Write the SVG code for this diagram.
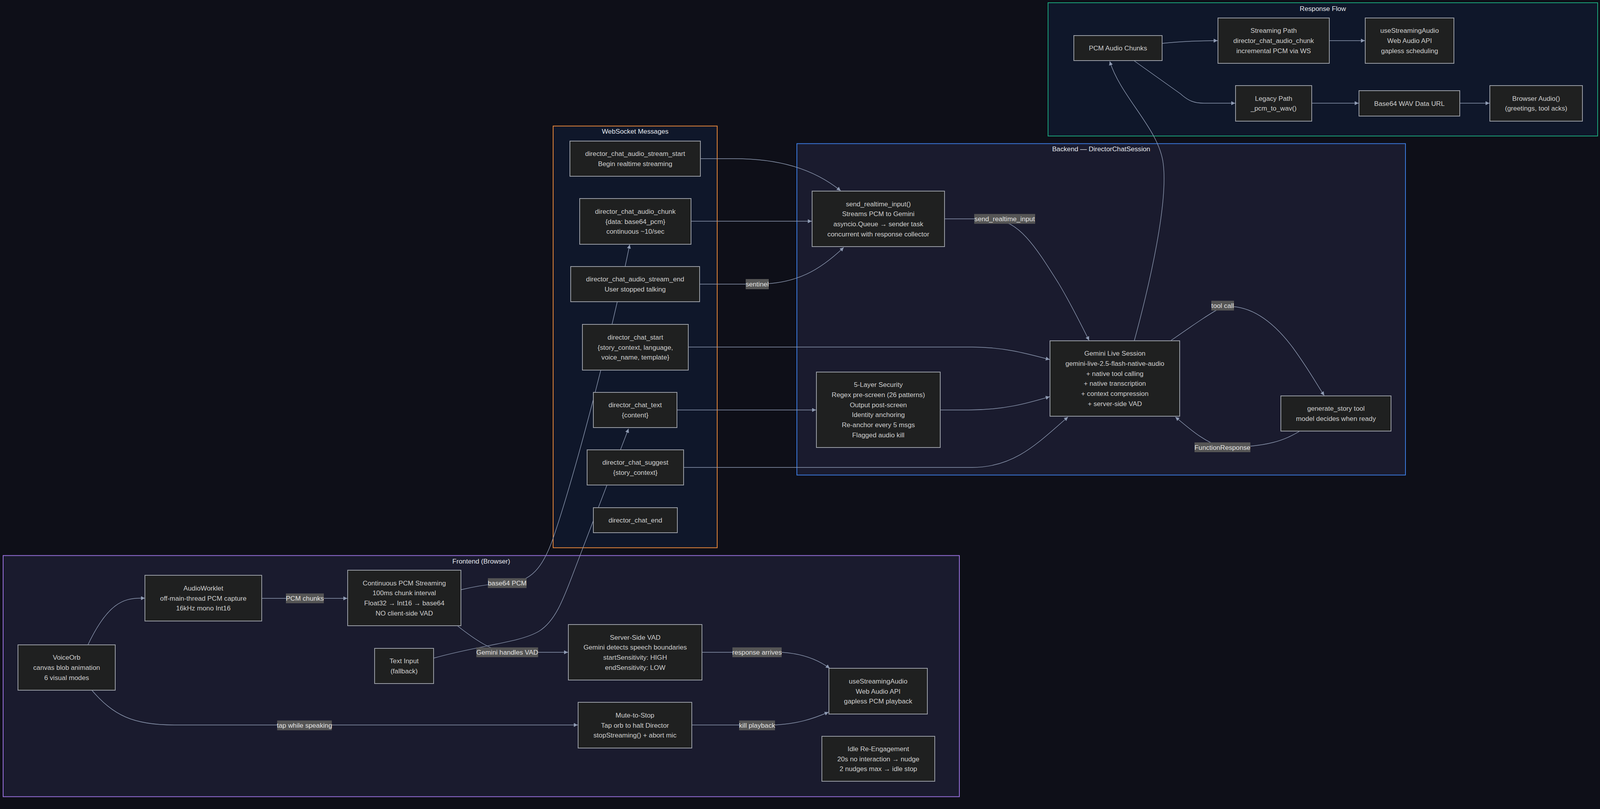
<svg xmlns="http://www.w3.org/2000/svg" width="4704" height="2070" viewBox="0 0 4704 2070">
<defs>
<marker id="arr" markerUnits="userSpaceOnUse" markerWidth="11" markerHeight="11" refX="10" refY="5" orient="auto">
<path d="M0,0 L10,5 L0,10 z" fill="#8f9bb3"/>
</marker>
<style>
.bg{fill:#0e0f18}
.cl{stroke-width:2}
.node rect{fill:#1f2020;stroke:#9a9ea6;stroke-width:2}
.node text{font-family:"Liberation Sans",Arial,Helvetica,sans-serif;font-size:17.2px;fill:#cfcfcf;text-anchor:middle;dominant-baseline:central}
.ttl{font-family:"Liberation Sans",Arial,Helvetica,sans-serif;font-size:17.2px;fill:#e6e9ee;text-anchor:middle;dominant-baseline:central}
.edges path{fill:none;stroke:#8f9bb3;stroke-width:1.4;marker-end:url(#arr)}
.lbl rect{fill:#555555}
.lbl text{font-family:"Liberation Sans",Arial,Helvetica,sans-serif;font-size:17.2px;fill:#e2e2e2;text-anchor:middle;dominant-baseline:central}
</style>
</defs>
<rect class="bg" x="0" y="0" width="4704" height="2070"/>

<g id="clusters">
<g id="cluster-response">
<rect class="cl" x="2683" y="7" width="1407" height="341" fill="#0f172a" stroke="#1aa37a"/>
<text class="ttl" x="3386.5" y="21.5">Response Flow</text>
</g>
<g id="cluster-websocket">
<rect class="cl" x="1416" y="322.5" width="420" height="1079" fill="#0f172a" stroke="#e8873a"/>
<text class="ttl" x="1626" y="336">WebSocket Messages</text>
</g>
<g id="cluster-backend">
<rect class="cl" x="2040" y="367.5" width="1558" height="848" fill="#1a1b2e" stroke="#3b7be0"/>
<text class="ttl" x="2819" y="381">Backend — DirectorChatSession</text>
</g>
<g id="cluster-frontend">
<rect class="cl" x="8" y="1421.5" width="2448" height="617" fill="#1a1b2e" stroke="#9a72e0"/>
<text class="ttl" x="1232" y="1435.5">Frontend (Browser)</text>
</g>
</g>

<g class="edges" id="connectors">
<path d="M225,1650 C275,1545 315,1530.5 360,1530.5 L371,1530.5"/>
<path d="M670,1531 L889,1531"/>
<path d="M1180,1509 C1230,1497 1270,1493 1298,1492 C1360,1490 1390,1450 1415,1380 C1470,1220 1560,880 1612,626"/>
<path d="M1172,1602 C1220,1640 1260,1665 1298,1669 L1454,1669"/>
<path d="M1110,1684 C1230,1650 1330,1645 1380,1615 C1420,1590 1440,1540 1470,1460 C1520,1330 1570,1200 1609,1097"/>
<path d="M1793,406 L1880,406 C1990,406 2080,430 2152,488"/>
<path d="M1769,566 L2078,566"/>
<path d="M1791,727 L1938,727 C2040,727 2100,690 2160,633"/>
<path d="M2418,560 L2540,560 C2610,565 2650,630 2710,725 C2740,775 2765,825 2788,871"/>
<path d="M1762,888 L2489,888 C2570,888 2630,905 2687,920"/>
<path d="M1733,1049 L2089,1049"/>
<path d="M2407,1049 L2480,1049 C2570,1049 2630,1032 2687,1015"/>
<path d="M1750,1196 L2489,1196 C2600,1196 2660,1130 2734,1067"/>
<path d="M2998,871 C3060,828 3100,800 3130,785 C3190,778 3250,810 3310,890 C3350,945 3372,985 3390,1012"/>
<path d="M3326,1104 C3290,1125 3250,1144 3130,1145 C3080,1130 3040,1092 3009,1067"/>
<path d="M2904,871 C2945,720 2990,520 2978,420 C2968,330 2870,250 2841,157"/>
<path d="M2975,111 C3022,106 3062,104 3117,104"/>
<path d="M3403,104 L3494,104"/>
<path d="M2904,156 L3022,240 C3042,258 3057,264 3082,264 L3162,264"/>
<path d="M3358,264 L3478,264"/>
<path d="M3737,264 L3813,264"/>
<path d="M235,1766 C290,1830 340,1855 446,1855 L1479,1855"/>
<path d="M1797,1669 L2001,1669 C2050,1672 2090,1685 2124,1710"/>
<path d="M1771,1855 L1984,1855 C2040,1852 2080,1840 2121,1822"/>
</g>

<g id="edge-labels">
<g class="lbl"><rect x="732" y="1518.5" width="97" height="25"/><text x="780.5" y="1531">PCM chunks</text></g>
<g class="lbl"><rect x="709.5" y="1843.5" width="140" height="25"/><text x="779.5" y="1856">tap while speaking</text></g>
<g class="lbl"><rect x="1249" y="1479.5" width="99" height="25"/><text x="1298.5" y="1492">base64 PCM</text></g>
<g class="lbl"><rect x="1219.5" y="1656.5" width="158" height="25"/><text x="1298.5" y="1669">Gemini handles VAD</text></g>
<g class="lbl"><rect x="1875" y="1656.5" width="126" height="25"/><text x="1938" y="1669">response arrives</text></g>
<g class="lbl"><rect x="1892" y="1843.5" width="92" height="25"/><text x="1938" y="1856">kill playback</text></g>
<g class="lbl"><rect x="1909" y="714" width="59" height="26"/><text x="1938.5" y="727">sentinel</text></g>
<g class="lbl"><rect x="2494" y="547.5" width="156" height="25"/><text x="2572" y="560">send_realtime_input</text></g>
<g class="lbl"><rect x="3101" y="769.5" width="58" height="25"/><text x="3130" y="782">tool call</text></g>
<g class="lbl"><rect x="3058" y="1132" width="143" height="25"/><text x="3129.5" y="1144.5">FunctionResponse</text></g>
</g>

<g id="n-pcm-chunks" class="node"><rect x="2749" y="91" width="226" height="64"/><text x="2862" y="123">PCM Audio Chunks</text></g>
<g id="n-streaming-path" class="node"><rect x="3118" y="46" width="285" height="116"/>
<text x="3260.5" y="78.3">Streaming Path</text><text x="3260.5" y="104">director_chat_audio_chunk</text><text x="3260.5" y="129.7">incremental PCM via WS</text></g>
<g id="n-usestreaming-resp" class="node"><rect x="3495" y="46" width="227" height="116"/>
<text x="3608.5" y="78.3">useStreamingAudio</text><text x="3608.5" y="104">Web Audio API</text><text x="3608.5" y="129.7">gapless scheduling</text></g>
<g id="n-legacy" class="node"><rect x="3163" y="219" width="195" height="91"/>
<text x="3260.5" y="251.6">Legacy Path</text><text x="3260.5" y="277.4">_pcm_to_wav()</text></g>
<g id="n-base64wav" class="node"><rect x="3479" y="232" width="258" height="65"/><text x="3608" y="264.5">Base64 WAV Data URL</text></g>
<g id="n-browser-audio" class="node"><rect x="3814" y="219" width="237" height="91"/>
<text x="3932.5" y="251.6">Browser Audio()</text><text x="3932.5" y="277.4">(greetings, tool acks)</text></g>

<g id="n-stream-start" class="node"><rect x="1459" y="361" width="334" height="90"/>
<text x="1626" y="393.1">director_chat_audio_stream_start</text><text x="1626" y="418.9">Begin realtime streaming</text></g>
<g id="n-audio-chunk" class="node"><rect x="1484" y="508" width="285" height="117"/>
<text x="1626.5" y="540.8">director_chat_audio_chunk</text><text x="1626.5" y="566.5">{data: base64_pcm}</text><text x="1626.5" y="592.2">continuous ~10/sec</text></g>
<g id="n-stream-end" class="node"><rect x="1461" y="682" width="330" height="90"/>
<text x="1626" y="714.1">director_chat_audio_stream_end</text><text x="1626" y="739.9">User stopped talking</text></g>
<g id="n-chat-start" class="node"><rect x="1491" y="830" width="271" height="117"/>
<text x="1626.5" y="862.8">director_chat_start</text><text x="1626.5" y="888.5">{story_context, language,</text><text x="1626.5" y="914.2">voice_name, template}</text></g>
<g id="n-chat-text" class="node"><rect x="1519" y="1004" width="214" height="90"/>
<text x="1626" y="1036.1">director_chat_text</text><text x="1626" y="1061.9">{content}</text></g>
<g id="n-chat-suggest" class="node"><rect x="1503" y="1151" width="247" height="90"/>
<text x="1626.5" y="1183.1">director_chat_suggest</text><text x="1626.5" y="1208.9">{story_context}</text></g>
<g id="n-chat-end" class="node"><rect x="1519" y="1299" width="215" height="64"/><text x="1626.5" y="1331">director_chat_end</text></g>

<g id="n-send-realtime" class="node"><rect x="2079" y="489" width="339" height="142"/>
<text x="2248.5" y="521.5">send_realtime_input()</text><text x="2248.5" y="547.2">Streams PCM to Gemini</text><text x="2248.5" y="572.9">asyncio.Queue → sender task</text><text x="2248.5" y="598.6">concurrent with response collector</text></g>
<g id="n-security" class="node"><rect x="2090" y="952" width="317" height="193"/>
<text x="2248.5" y="984.3">5-Layer Security</text><text x="2248.5" y="1010">Regex pre-screen (26 patterns)</text><text x="2248.5" y="1035.7">Output post-screen</text><text x="2248.5" y="1061.4">Identity anchoring</text><text x="2248.5" y="1087.1">Re-anchor every 5 msgs</text><text x="2248.5" y="1112.8">Flagged audio kill</text></g>
<g id="n-gemini" class="node"><rect x="2688" y="872" width="332" height="193"/>
<text x="2854" y="904.3">Gemini Live Session</text><text x="2854" y="930">gemini-live-2.5-flash-native-audio</text><text x="2854" y="955.7">+ native tool calling</text><text x="2854" y="981.4">+ native transcription</text><text x="2854" y="1007.1">+ context compression</text><text x="2854" y="1032.8">+ server-side VAD</text></g>
<g id="n-generate-story" class="node"><rect x="3279" y="1013" width="282" height="90"/>
<text x="3420" y="1045.1">generate_story tool</text><text x="3420" y="1070.9">model decides when ready</text></g>

<g id="n-voiceorb" class="node"><rect x="46" y="1650" width="249" height="116"/>
<text x="170.5" y="1682.3">VoiceOrb</text><text x="170.5" y="1708">canvas blob animation</text><text x="170.5" y="1733.7">6 visual modes</text></g>
<g id="n-audioworklet" class="node"><rect x="371" y="1472" width="299" height="117"/>
<text x="520.5" y="1504.8">AudioWorklet</text><text x="520.5" y="1530.5">off-main-thread PCM capture</text><text x="520.5" y="1556.2">16kHz mono Int16</text></g>
<g id="n-continuous-pcm" class="node"><rect x="890" y="1459" width="290" height="142"/>
<text x="1035" y="1491.5">Continuous PCM Streaming</text><text x="1035" y="1517.2">100ms chunk interval</text><text x="1035" y="1542.9">Float32 → Int16 → base64</text><text x="1035" y="1568.6">NO client-side VAD</text></g>
<g id="n-text-input" class="node"><rect x="959" y="1659" width="151" height="90"/>
<text x="1034.5" y="1691.1">Text Input</text><text x="1034.5" y="1716.9">(fallback)</text></g>
<g id="n-server-vad" class="node"><rect x="1455" y="1598" width="342" height="142"/>
<text x="1626" y="1630.5">Server-Side VAD</text><text x="1626" y="1656.2">Gemini detects speech boundaries</text><text x="1626" y="1681.9">startSensitivity: HIGH</text><text x="1626" y="1707.6">endSensitivity: LOW</text></g>
<g id="n-usestreaming-front" class="node"><rect x="2122" y="1710" width="252" height="117"/>
<text x="2248" y="1742.8">useStreamingAudio</text><text x="2248" y="1768.5">Web Audio API</text><text x="2248" y="1794.2">gapless PCM playback</text></g>
<g id="n-mute" class="node"><rect x="1480" y="1797" width="291" height="117"/>
<text x="1625.5" y="1829.8">Mute-to-Stop</text><text x="1625.5" y="1855.5">Tap orb to halt Director</text><text x="1625.5" y="1881.2">stopStreaming() + abort mic</text></g>
<g id="n-idle" class="node"><rect x="2104" y="1884" width="289" height="115"/>
<text x="2248.5" y="1915.8">Idle Re-Engagement</text><text x="2248.5" y="1941.5">20s no interaction → nudge</text><text x="2248.5" y="1967.2">2 nudges max → idle stop</text></g>
</svg>
